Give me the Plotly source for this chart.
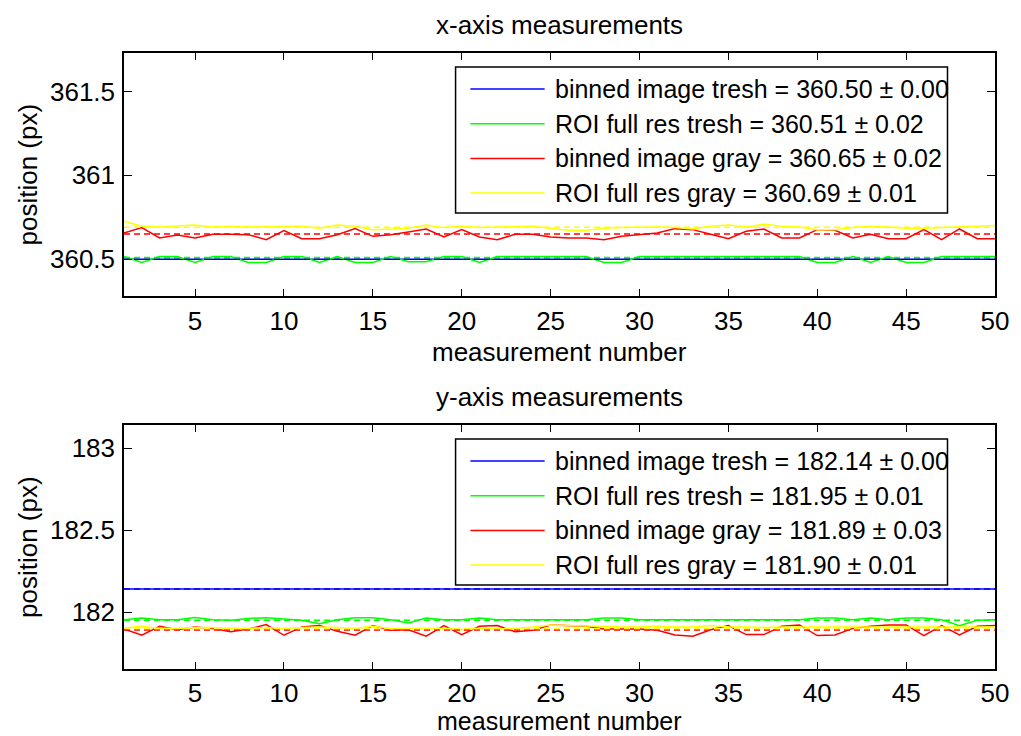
import plotly.graph_objects as go

# ---------------- data ----------------
meas = list(range(1, 51))

series_names = ["binned image tresh", "ROI full res tresh", "binned image gray", "ROI full res gray"]
series_colors = ["#0000ff", "#00ff00", "#ff0000", "#ffff00"]

x_means = [360.50, 360.51, 360.65, 360.69]
x_stds = [0.00, 0.02, 0.02, 0.01]
y_means = [182.14, 181.95, 181.89, 181.90]
y_stds = [0.00, 0.01, 0.03, 0.01]

x_binned_tresh = [360.50] * 50
x_roi_tresh = [360.516, 360.480, 360.516, 360.516, 360.480, 360.516, 360.516, 360.480, 360.480, 360.516,
               360.516, 360.480, 360.516, 360.480, 360.480, 360.516, 360.484, 360.484, 360.516, 360.516,
               360.480, 360.516, 360.516, 360.516, 360.516, 360.516, 360.516, 360.480, 360.480, 360.516,
               360.516, 360.516, 360.516, 360.516, 360.516, 360.516, 360.516, 360.516, 360.516, 360.480,
               360.480, 360.516, 360.480, 360.516, 360.480, 360.480, 360.516, 360.516, 360.516, 360.516]
x_binned_gray = [360.656, 360.688, 360.626, 360.644, 360.626, 360.648, 360.648, 360.646, 360.616, 360.670,
                 360.622, 360.622, 360.646, 360.682, 360.636, 360.646, 360.662, 360.680, 360.632, 360.676,
                 360.632, 360.616, 360.648, 360.648, 360.632, 360.626, 360.626, 360.616, 360.636, 360.648,
                 360.656, 360.682, 360.676, 360.648, 360.622, 360.666, 360.680, 360.626, 360.626, 360.676,
                 360.672, 360.626, 360.648, 360.622, 360.622, 360.676, 360.616, 360.680, 360.622, 360.622]
x_roi_gray = [360.726, 360.696, 360.692, 360.696, 360.704, 360.692, 360.696, 360.692, 360.692, 360.696,
              360.696, 360.684, 360.704, 360.696, 360.676, 360.680, 360.684, 360.704, 360.688, 360.696,
              360.688, 360.692, 360.696, 360.696, 360.684, 360.672, 360.672, 360.684, 360.688, 360.692,
              360.692, 360.688, 360.680, 360.696, 360.704, 360.692, 360.708, 360.696, 360.692, 360.676,
              360.676, 360.688, 360.696, 360.692, 360.684, 360.684, 360.688, 360.696, 360.696, 360.700]

y_binned_tresh = [182.14] * 50
y_roi_tresh = [181.953, 181.963, 181.953, 181.953, 181.967, 181.953, 181.949, 181.961, 181.965, 181.957,
               181.949, 181.929, 181.953, 181.965, 181.965, 181.953, 181.933, 181.963, 181.953, 181.953,
               181.963, 181.953, 181.953, 181.953, 181.953, 181.953, 181.953, 181.963, 181.963, 181.953,
               181.953, 181.953, 181.953, 181.953, 181.953, 181.953, 181.953, 181.953, 181.953, 181.963,
               181.963, 181.953, 181.963, 181.953, 181.963, 181.963, 181.953, 181.917, 181.949, 181.953]
y_binned_gray = [181.896, 181.858, 181.913, 181.892, 181.909, 181.900, 181.880, 181.896, 181.923, 181.858,
                 181.909, 181.917, 181.882, 181.858, 181.917, 181.888, 181.892, 181.852, 181.917, 181.862,
                 181.913, 181.917, 181.880, 181.888, 181.921, 181.917, 181.913, 181.896, 181.896, 181.896,
                 181.888, 181.860, 181.852, 181.892, 181.917, 181.862, 181.862, 181.913, 181.921, 181.856,
                 181.860, 181.900, 181.913, 181.921, 181.921, 181.856, 181.917, 181.860, 181.913, 181.917]
y_roi_gray = [181.903, 181.913, 181.900, 181.900, 181.905, 181.905, 181.900, 181.900, 181.905, 181.900,
              181.905, 181.909, 181.905, 181.900, 181.913, 181.900, 181.900, 181.900, 181.900, 181.892,
              181.900, 181.896, 181.900, 181.909, 181.921, 181.917, 181.913, 181.909, 181.909, 181.909,
              181.913, 181.909, 181.909, 181.917, 181.909, 181.909, 181.905, 181.909, 181.909, 181.909,
              181.905, 181.909, 181.909, 181.905, 181.905, 181.909, 181.909, 181.909, 181.909, 181.909]

x_tick_vals = [5, 10, 15, 20, 25, 30, 35, 40, 45, 50]
top_ytick_vals = [360.5, 361, 361.5]
top_ytick_text = ["360.5", "361", "361.5"]
bot_ytick_vals = [182, 182.5, 183]
bot_ytick_text = ["182", "182.5", "183"]
top_yrange = [360.28, 361.73]
bot_yrange = [181.652, 183.142]

titles = ["x-axis measurements", "y-axis measurements"]
xlabel = "measurement number"
ylabel = "position (px)"

# ---------------- layout helpers (pixels) ----------------
W, H = 1021, 736
L, R, T, B = 124, 17, 53, 67
PW, PH = W - L - R, H - T - B


def px_x(px):
    return (px - L) / PW


def px_y(py):
    return (H - B - py) / PH


FONT = "Liberation Sans, Arial, Helvetica, sans-serif"
FS = 26      # ticks, titles, axis labels
FS_LEG = 25  # legend entries

fig = go.Figure()

panels = [
    dict(data=[x_binned_tresh, x_roi_tresh, x_binned_gray, x_roi_gray], means=x_means, stds=x_stds,
         xa="x", ya="y", top=53, bot=296, xlab_off=56, xlab_fs=26),
    dict(data=[y_binned_tresh, y_roi_tresh, y_binned_gray, y_roi_gray], means=y_means, stds=y_stds,
         xa="x2", ya="y2", top=425, bot=669, xlab_off=52, xlab_fs=25),
]

for p in panels:
    for vals, col in zip(p["data"], series_colors):
        fig.add_trace(go.Scatter(x=meas, y=vals, mode="lines", line=dict(color=col, width=1.5),
                                 xaxis=p["xa"], yaxis=p["ya"], showlegend=False, hoverinfo="skip"))
    for m, col in zip(p["means"], series_colors):
        fig.add_trace(go.Scatter(x=[meas[0], meas[-1]], y=[m, m], mode="lines",
                                 line=dict(color=col, width=1.5, dash="6px,4px"),
                                 xaxis=p["xa"], yaxis=p["ya"], showlegend=False, hoverinfo="skip"))

axis_common = dict(showline=True, linecolor="black", linewidth=1.5, mirror="ticks", ticks="inside",
                   tickcolor="black", tickwidth=1, showgrid=False, zeroline=False,
                   tickfont=dict(family=FONT, size=FS, color="black"))

fig.update_layout(
    width=W, height=H, margin=dict(l=L, r=R, t=T, b=B),
    paper_bgcolor="white", plot_bgcolor="white", showlegend=False,
    xaxis=dict(domain=[0, 1], anchor="y", range=[1, 50], tickvals=x_tick_vals, ticklen=7,
               ticklabelstandoff=1, **axis_common),
    yaxis=dict(domain=[px_y(296), px_y(53)], anchor="x", range=top_yrange, tickvals=top_ytick_vals,
               ticktext=top_ytick_text, ticklen=8, ticklabelstandoff=2, **axis_common),
    xaxis2=dict(domain=[0, 1], anchor="y2", range=[1, 50], tickvals=x_tick_vals, ticklen=7,
                ticklabelstandoff=0, **axis_common),
    yaxis2=dict(domain=[px_y(669), px_y(425)], anchor="x2", range=bot_yrange, tickvals=bot_ytick_vals,
                ticktext=bot_ytick_text, ticklen=8, ticklabelstandoff=2, **axis_common),
)

annotations = []
shapes = []
for p, title in zip(panels, titles):
    top, bot = p["top"], p["bot"]
    annotations.append(dict(text=title, x=0.5, y=px_y(top - 28), xref="paper", yref="paper",
                            showarrow=False, xanchor="center", yanchor="middle",
                            font=dict(family=FONT, size=FS, color="black")))
    annotations.append(dict(text=xlabel, x=0.5, y=px_y(bot + p["xlab_off"]), xref="paper", yref="paper",
                            showarrow=False, xanchor="center", yanchor="middle",
                            font=dict(family=FONT, size=p["xlab_fs"], color="black")))
    annotations.append(dict(text=ylabel, x=px_x(27), y=px_y((top + bot) / 2), xref="paper", yref="paper",
                            showarrow=False, xanchor="center", yanchor="middle", textangle=-90,
                            font=dict(family=FONT, size=FS, color="black")))
    # legend box
    shapes.append(dict(type="rect", xref="paper", yref="paper", x0=px_x(459), x1=px_x(956),
                       y0=px_y(top + 160), y1=px_y(top + 14), line=dict(color="black", width=1.5),
                       fillcolor="white", layer="above"))
    for k, (name, col, m, s) in enumerate(zip(series_names, series_colors, p["means"], p["stds"])):
        yc = top + 36 + k * 34.7
        shapes.append(dict(type="line", xref="paper", yref="paper", x0=px_x(474), x1=px_x(549),
                           y0=px_y(yc), y1=px_y(yc), line=dict(color=col, width=1.5), layer="above"))
        annotations.append(dict(text=f"{name} = {m:.2f} ± {s:.2f}", x=px_x(557), y=px_y(yc),
                                xref="paper", yref="paper", showarrow=False, xanchor="left",
                                yanchor="middle", font=dict(family=FONT, size=FS_LEG, color="black")))

fig.update_layout(annotations=annotations, shapes=shapes)
fig.write_html("out.html")
